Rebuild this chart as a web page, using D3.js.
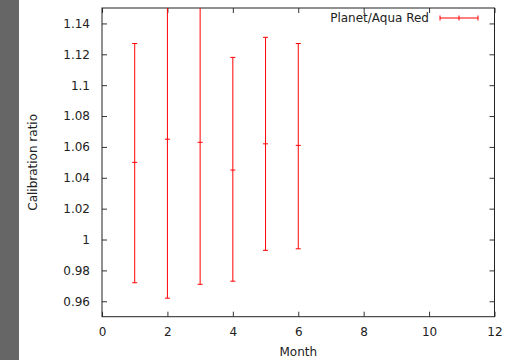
<!DOCTYPE html>
<html>
<head>
<meta charset="utf-8">
<script src="https://cdn.jsdelivr.net/npm/d3@7"></script>
<style>
  html, body { margin: 0; padding: 0; background: #fff; }
  svg { display: block; font-family: "DejaVu Sans", sans-serif; }
</style>
</head>
<body>
<script>
// Monthly calibration ratio (Planet / Aqua, red band) with error bars
const months = [1, 2, 3, 4, 5, 6];
const ratios = [1.050, 1.065, 1.063, 1.045, 1.062, 1.061];
const lower  = [0.972, 0.962, 0.971, 0.973, 0.993, 0.994];
const upper  = [1.127, 1.168, 1.155, 1.118, 1.131, 1.127];
const xTicks = [0, 2, 4, 6, 8, 10, 12];
const yTicks = [0.96, 0.98, 1.00, 1.02, 1.04, 1.06, 1.08, 1.10, 1.12, 1.14];
const seriesName = "Planet/Aqua Red";

const W = 512, H = 360;
const m = { left: 102, right: 494.5, top: 8, bottom: 316.7 };

const svg = d3.select("body").append("svg").attr("width", W).attr("height", H);

// dark strip along the left edge
svg.append("rect").attr("x", 0).attr("y", 0).attr("width", 19).attr("height", H).attr("fill", "#666");

const x = d3.scaleLinear().domain([0, 12]).range([m.left, m.right]);
const y = d3.scaleLinear().domain([0.95, 1.15]).range([m.bottom, m.top]);

const fmt = d => d3.format("")(+d.toFixed(2));
const tickLen = 5;

// axes: ticks point inward, mirrored on the opposite side
const gBottom = svg.append("g").attr("transform", `translate(0,${m.bottom})`)
  .call(d3.axisBottom(x).tickValues(xTicks).tickSize(-tickLen).tickPadding(tickLen + 6).tickFormat(d3.format("d")));
const gTop = svg.append("g").attr("transform", `translate(0,${m.top})`)
  .call(d3.axisTop(x).tickValues(xTicks).tickSize(-tickLen).tickFormat(""));
const gLeft = svg.append("g").attr("transform", `translate(${m.left},0)`)
  .call(d3.axisLeft(y).tickValues(yTicks).tickSize(-tickLen).tickPadding(tickLen + 7).tickFormat(fmt));
const gRight = svg.append("g").attr("transform", `translate(${m.right},0)`)
  .call(d3.axisRight(y).tickValues(yTicks).tickSize(-tickLen).tickFormat(""));

[gBottom, gTop, gLeft, gRight].forEach(g => {
  g.select(".domain").remove();
  g.selectAll(".tick line").attr("stroke", "#333");
  g.selectAll("text").attr("fill", "#222").style("font-size", "12px").style("font-family", "DejaVu Sans, sans-serif");
});

// plot border
svg.append("rect")
  .attr("x", m.left).attr("y", m.top)
  .attr("width", m.right - m.left).attr("height", m.bottom - m.top)
  .attr("fill", "none").attr("stroke", "#222").attr("stroke-width", 1);

// axis titles
svg.append("text").attr("x", x(6)).attr("y", 356)
  .attr("text-anchor", "middle").attr("fill", "#222").style("font-size", "12px").text("Month");
svg.append("text")
  .attr("transform", `translate(37,${(m.top + m.bottom) / 2}) rotate(-90)`)
  .attr("text-anchor", "middle").attr("fill", "#222").style("font-size", "12px").text("Calibration ratio");

// error bars, clipped to the plot frame
svg.append("clipPath").attr("id", "plotClip")
  .append("rect").attr("x", m.left).attr("y", m.top)
  .attr("width", m.right - m.left).attr("height", m.bottom - m.top);

const data = months.map((mo, i) => ({ mo, v: ratios[i], lo: lower[i], hi: upper[i] }));
const bars = svg.append("g").attr("clip-path", "url(#plotClip)")
  .attr("stroke", "#ff0000").attr("stroke-width", 1).attr("fill", "none");
const cap = 2.5;

const g = bars.selectAll("g.bar").data(data).join("g").attr("class", "bar");
g.append("line").attr("x1", d => x(d.mo)).attr("x2", d => x(d.mo))
  .attr("y1", d => y(d.lo)).attr("y2", d => y(d.hi));
g.append("line").attr("x1", d => x(d.mo) - cap).attr("x2", d => x(d.mo) + cap)
  .attr("y1", d => y(d.lo)).attr("y2", d => y(d.lo));
g.append("line").attr("x1", d => x(d.mo) - cap).attr("x2", d => x(d.mo) + cap)
  .attr("y1", d => y(d.hi)).attr("y2", d => y(d.hi));
g.append("line").attr("x1", d => x(d.mo) - cap).attr("x2", d => x(d.mo) + cap)
  .attr("y1", d => y(d.v)).attr("y2", d => y(d.v));

// legend
const ly = 18;
svg.append("text").attr("x", 429).attr("y", ly + 4)
  .attr("text-anchor", "end").attr("fill", "#222").style("font-size", "12px").text(seriesName);
const lg = svg.append("g").attr("stroke", "#ff0000").attr("stroke-width", 1);
lg.append("line").attr("x1", 440).attr("x2", 478).attr("y1", ly).attr("y2", ly);
[440, 459, 478].forEach(px => {
  lg.append("line").attr("x1", px).attr("x2", px).attr("y1", ly - 2.5).attr("y2", ly + 2.5);
});
</script>
</body>
</html>
